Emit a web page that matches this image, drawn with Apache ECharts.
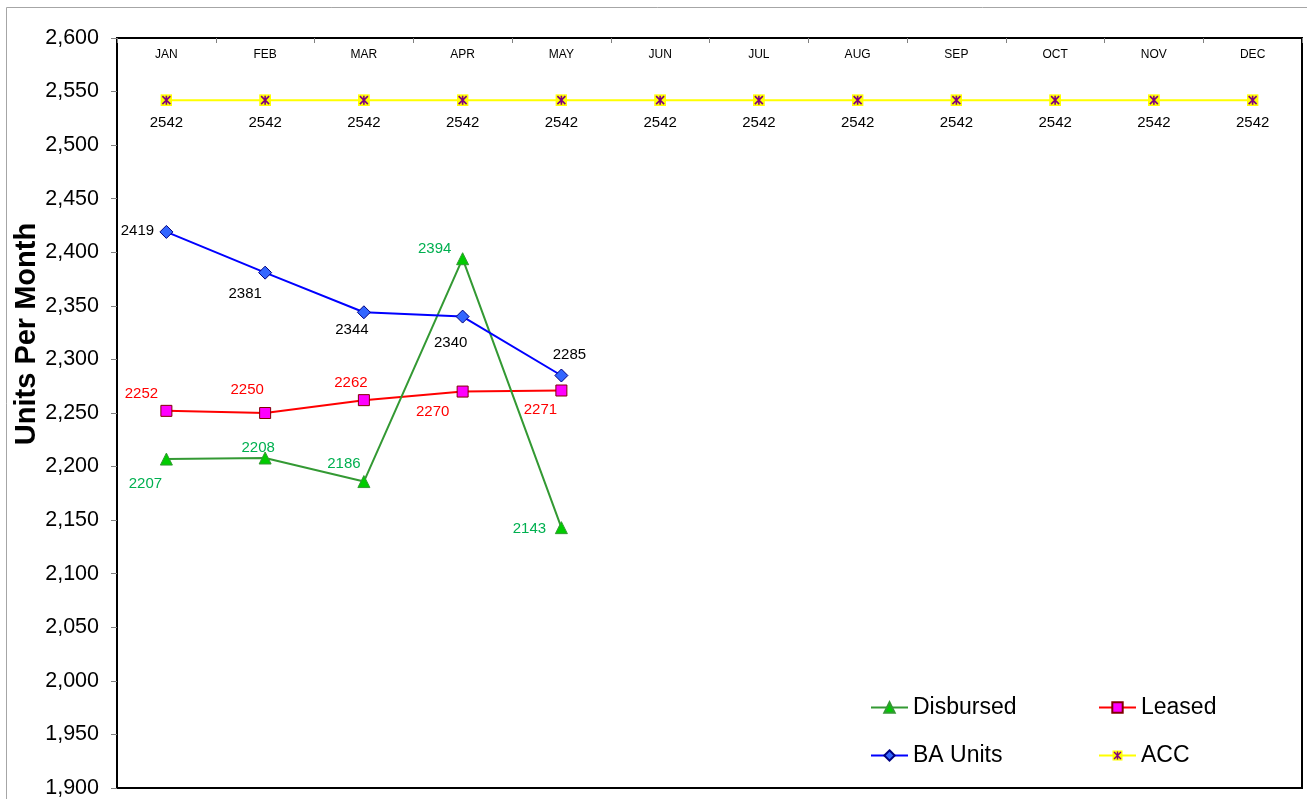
<html>
    <head>
        <meta charset="utf-8">
        <script src="https://cdn.jsdelivr.net/npm/echarts@6/dist/echarts.min.js"></script>
    </head>
    <body>
        <style>
            html, body, #main {
                width: 100%;
                height: 100%;
                margin: 0;
                background: #fff;
            }
        </style>
        <div id="main"></div>

        <script>
            var months = ['JAN', 'FEB', 'MAR', 'APR', 'MAY', 'JUN', 'JUL', 'AUG', 'SEP', 'OCT', 'NOV', 'DEC'];
            var disbursed = [2207, 2208, 2186, 2394, 2143];
            var leased = [2252, 2250, 2262, 2270, 2271];
            var baUnits = [2419, 2381, 2344, 2340, 2285];
            var acc = [2542, 2542, 2542, 2542, 2542, 2542, 2542, 2542, 2542, 2542, 2542, 2542];

            // where each data label sits relative to its point
            var disbursedOffsets = [[-21, 25], [-7, -10], [-20, -18], [-28, -10], [-32, 1]];
            var leasedOffsets = [[-25, -17], [-18, -23], [-13, -17], [-30, 20], [-21, 19]];
            var baOffsets = [[-29, -1], [-20, 21], [-12, 18], [-12, 26], [8, -21]];

            var FONT = 'Liberation Sans, Arial, sans-serif';

            // yellow square with a purple asterisk, like the excel marker
            var accSvg = '<svg xmlns="http://www.w3.org/2000/svg" width="12" height="12" viewBox="0 0 12 12">' +
                '<rect x="0" y="0" width="12" height="12" fill="#ffff00"/>' +
                '<path d="M2,2L10,10M10,2L2,10M6,1.5L6,10.5" stroke="#800080" stroke-width="1.6"/>' +
                '</svg>';
            var accSymbol = 'image://data:image/svg+xml;charset=utf-8,' + encodeURIComponent(accSvg);

            function withLabels(values, offsets, color) {
                return values.map(function (v, i) {
                    return {
                        value: v,
                        label: {
                            show: true,
                            position: 'inside',
                            offset: offsets[i],
                            color: color,
                            fontSize: 15,
                            fontFamily: FONT
                        }
                    };
                });
            }

            var chart = echarts.init(document.getElementById('main'));

            function legendAt(name, left, top) {
                return {
                    data: [name],
                    left: left,
                    top: top,
                    itemWidth: 37,
                    itemHeight: 13,
                    padding: 0,
                    textStyle: {
                        fontSize: 23,
                        color: '#000',
                        fontFamily: FONT
                    }
                };
            }

            chart.setOption({
                animation: false,
                backgroundColor: '#fff',
                textStyle: { fontFamily: FONT },
                graphic: [{
                    type: 'rect',
                    shape: { x: 6.5, y: 7.5, width: 1400, height: 900 },
                    style: { fill: null, stroke: '#a6a6a6', lineWidth: 1 },
                    silent: true
                }, {
                    type: 'text',
                    x: 27,
                    y: 334,
                    rotation: Math.PI / 2,
                    style: {
                        text: 'Units Per Month',
                        font: 'bold 29px ' + FONT,
                        fill: '#000',
                        textAlign: 'center',
                        textVerticalAlign: 'middle'
                    }
                }],
                legend: [
                    legendAt('Disbursed', 870, 696),
                    legendAt('Leased', 1098, 696),
                    legendAt('BA Units', 870, 744),
                    legendAt('ACC', 1098, 744)
                ],
                grid: {
                    left: 117,
                    right: 5,
                    top: 38,
                    bottom: 9,
                    show: true,
                    borderColor: '#000',
                    borderWidth: 2
                },
                xAxis: {
                    type: 'category',
                    position: 'top',
                    data: months,
                    boundaryGap: true,
                    axisLine: { show: true, lineStyle: { color: '#000', width: 2 } },
                    axisTick: { show: true, inside: true, length: 5, lineStyle: { color: '#808080' } },
                    axisLabel: {
                        inside: true,
                        margin: 11,
                        fontSize: 12,
                        color: '#000',
                        fontFamily: FONT
                    },
                    splitLine: { show: false }
                },
                yAxis: {
                    type: 'value',
                    min: 1900,
                    max: 2600,
                    interval: 50,
                    axisLine: { show: true, lineStyle: { color: '#000', width: 2 } },
                    axisTick: { show: true, length: 6, lineStyle: { color: '#808080' } },
                    axisLabel: {
                        margin: 18,
                        fontSize: 21.5,
                        color: '#000',
                        fontFamily: FONT,
                        formatter: function (v) {
                            return v.toLocaleString('en-US');
                        }
                    },
                    splitLine: { show: false }
                },
                series: [{
                    name: 'Disbursed',
                    type: 'line',
                    data: withLabels(disbursed, disbursedOffsets, '#00b050'),
                    symbol: 'triangle',
                    symbolSize: 12,
                    lineStyle: { color: '#339933', width: 2 },
                    itemStyle: { color: '#00cc00', borderColor: '#339933', borderWidth: 1 },
                    z: 4
                }, {
                    name: 'Leased',
                    type: 'line',
                    data: withLabels(leased, leasedOffsets, '#ff0000'),
                    symbol: 'rect',
                    symbolSize: 11,
                    lineStyle: { color: '#ff0000', width: 2 },
                    itemStyle: { color: '#ff00ff', borderColor: '#800000', borderWidth: 1 },
                    z: 3
                }, {
                    name: 'BA Units',
                    type: 'line',
                    data: withLabels(baUnits, baOffsets, '#000'),
                    symbol: 'diamond',
                    symbolSize: 13,
                    lineStyle: { color: '#0000ff', width: 2 },
                    itemStyle: { color: '#3366ff', borderColor: '#000080', borderWidth: 1 },
                    z: 5
                }, {
                    name: 'ACC',
                    type: 'line',
                    data: acc,
                    symbol: accSymbol,
                    symbolSize: 12,
                    lineStyle: { color: '#ffff00', width: 2 },
                    itemStyle: { color: '#ffff00' },
                    label: {
                        show: true,
                        position: 'inside',
                        offset: [0, 23],
                        color: '#000',
                        fontSize: 15,
                        fontFamily: FONT
                    },
                    z: 2
                }]
            });
        </script>
    </body>
</html>
